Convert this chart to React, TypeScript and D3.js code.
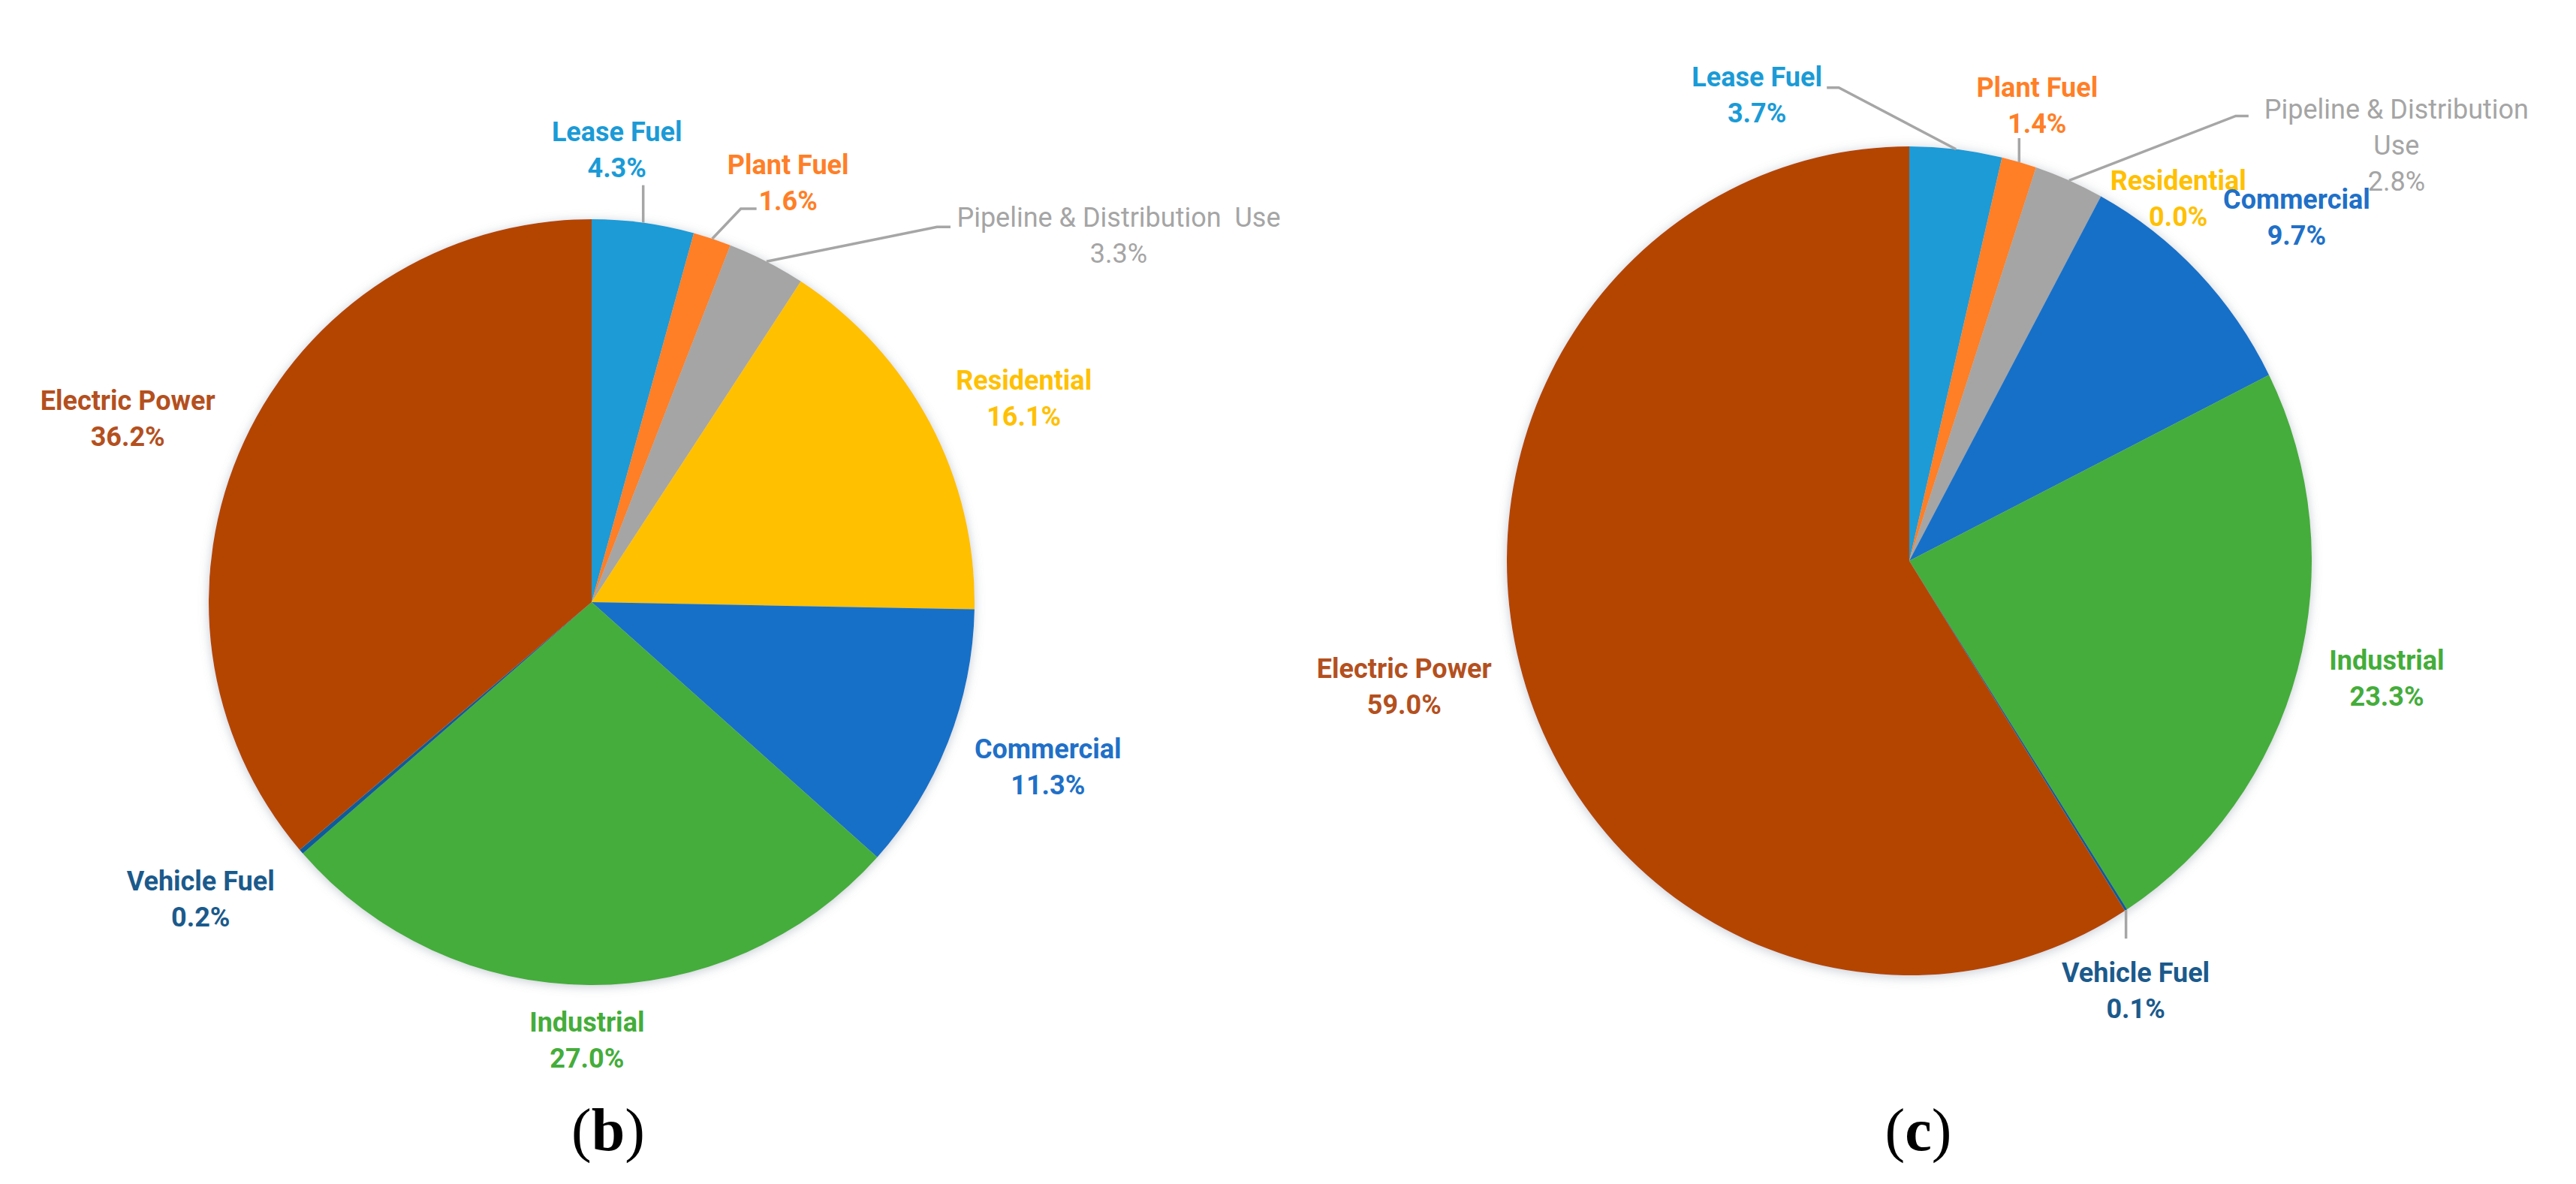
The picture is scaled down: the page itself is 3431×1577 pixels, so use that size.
import React from "react";
import * as d3 from "d3";

// slice order, clockwise from 12 o'clock
const categories = [
  "Lease Fuel",
  "Plant Fuel",
  "Pipeline & Distribution\u00A0 Use",
  "Residential",
  "Commercial",
  "Industrial",
  "Vehicle Fuel",
  "Electric Power",
];

// (b) and (c) shares in percent
const valuesB = [4.3, 1.6, 3.3, 16.1, 11.3, 27.0, 0.2, 36.2];
const valuesC = [3.7, 1.4, 2.8, 0.0, 9.7, 23.3, 0.1, 59.0];

const sliceColors = ["#1A9BD7", "#FF7F27", "#A5A5A5", "#FFC000", "#1570C8", "#44AD3A", "#0C5C9C", "#B44500"];
const labelColors = ["#1A9BD7", "#FF7F27", "#A5A5A5", "#FFC000", "#2070C8", "#44AD3A", "#1B5A8C", "#B4501E"];

const W = 3431;
const H = 1577;
const FONT = "Roboto, 'Noto Sans', sans-serif";
const FS = 36;
const LH = 48;

type Panel = {
  tag: string;
  values: number[];
  cx: number;
  cy: number;
  rx: number;
  ry: number;
  offsets: number[][];
  leaders: Record<number, number[][]>;
  wrap: Record<number, string[]>;
  captionX: number;
};

const panels: Panel[] = [
  {
    tag: "b",
    values: valuesB,
    cx: 788,
    cy: 802,
    rx: 510,
    ry: 510,
    offsets: [[-35, -97], [101, -75], [469, -35], [125, -33], [133, 33], [-3, 73], [-134, 63], [-155, -30]],
    leaders: {
      0: [[0, 0], [0, -50]],
      1: [[0, 0], [38, -40], [59, -40]],
      2: [[0, 0], [227, -46], [245, -46]],
    },
    wrap: {},
    captionX: 810,
  },
  {
    tag: "c",
    values: valuesC,
    cx: 2543,
    cy: 747,
    rx: 536,
    ry: 552,
    offsets: [[-265, -72], [24, -76], [436, -47], [103, 3], [131, -73], [119, 11], [13, 107], [-158, 13]],
    leaders: {
      0: [[0, 0], [-156, -82], [-172, -82]],
      1: [[0, 0], [0, -32]],
      2: [[0, 0], [222, -86], [239, -86]],
      6: [[0, 0], [0, 38]],
    },
    wrap: { 2: ["Pipeline & Distribution", "Use"] },
    captionX: 2555,
  },
];

const pie = d3
  .pie<number>()
  .sort(null)
  .value((d) => d);

const PiePanel = ({ p }: { p: Panel }) => {
  const arcs = pie(p.values);
  const arc = d3.arc<d3.PieArcDatum<number>>().innerRadius(0).outerRadius(p.rx);
  const k = p.ry / p.rx;

  return (
    <g>
      <g transform={`translate(${p.cx},${p.cy}) scale(1,${k})`} filter="url(#shadow)">
        {arcs.map((a, i) => (
          <path key={i} d={arc(a) || ""} fill={sliceColors[i]} />
        ))}
      </g>
      {arcs.map((a, i) => {
        const mid = (a.startAngle + a.endAngle) / 2;
        const ax = p.cx + p.rx * Math.sin(mid);
        const ay = p.cy - p.ry * Math.cos(mid);
        const [dx, dy] = p.offsets[i];
        const lx = ax + dx;
        const ly = ay + dy;
        const lines = [...(p.wrap[i] || [categories[i]]), `${p.values[i].toFixed(1)}%`];
        const y0 = ly - ((lines.length - 1) * LH) / 2 + FS * 0.35;
        const leader = p.leaders[i];
        return (
          <g key={i}>
            {leader && (
              <polyline
                points={leader.map(([x, y]) => `${ax + x},${ay + y}`).join(" ")}
                fill="none"
                stroke="#A6A6A6"
                strokeWidth={3.5}
              />
            )}
            <text
              x={lx}
              y={y0}
              textAnchor="middle"
              fontFamily={FONT}
              fontSize={FS}
              fontWeight={i === 2 ? 400 : 700}
              fill={labelColors[i]}
            >
              {lines.map((t, j) => (
                <tspan key={j} x={lx} dy={j === 0 ? 0 : LH}>
                  {t}
                </tspan>
              ))}
            </text>
          </g>
        );
      })}
      <text
        x={p.captionX}
        y={1532}
        textAnchor="middle"
        fontFamily="'Liberation Serif', 'Times New Roman', serif"
        fontSize={80}
        fill="#000"
      >
        <tspan>(</tspan>
        <tspan fontWeight="bold">{p.tag}</tspan>
        <tspan>)</tspan>
      </text>
    </g>
  );
};

export default function App() {
  return (
    <svg
      width={W}
      height={H}
      style={{ position: "absolute", left: 0, top: 0, background: "#fff" }}
    >
      <defs>
        <filter id="shadow" x="-10%" y="-10%" width="120%" height="120%">
          <feDropShadow dx="0" dy="2" stdDeviation="7" floodColor="#7f8c99" floodOpacity="0.45" />
        </filter>
      </defs>
      <rect width={W} height={H} fill="#fff" />
      {panels.map((p) => (
        <PiePanel key={p.tag} p={p} />
      ))}
    </svg>
  );
}
